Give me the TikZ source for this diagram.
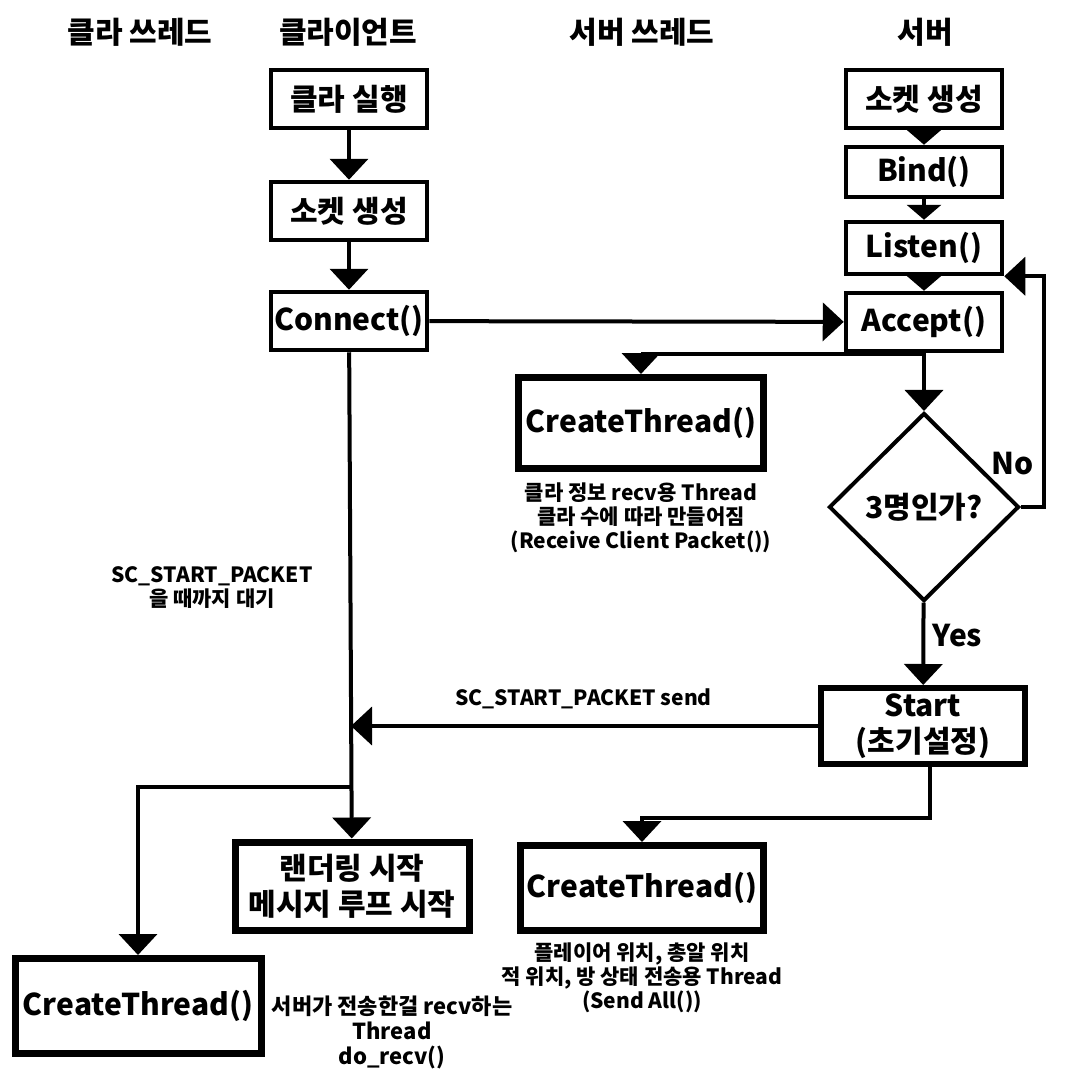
\documentclass[tikz,border=0pt]{standalone}
\usepackage{fontspec}
\setmainfont{Noto Sans CJK KR}[BoldFont={Noto Sans CJK KR Black}]
\usetikzlibrary{arrows.meta,positioning,shapes.geometric}

\begin{document}
\begin{tikzpicture}[x=1pt,y=-1pt,line width=4pt,-{Triangle[width=38pt,length=21pt]},
    font=\fontsize{30}{36}\selectfont\bfseries,
    box/.style={draw,line width=4.5pt,minimum width=156pt,minimum height=58pt,inner sep=2pt},
    heavy/.style={draw,line width=7pt,inner sep=2pt,align=center},
    note/.style={font=\fontsize{21}{24}\selectfont\bfseries,align=center},
    tip/.style={-{Triangle[width=34pt,length=15pt]}}]
    \useasboundingbox (0,0) rectangle (1080,1080);
    \node (h1) at (140,32) {클라 쓰레드};
    \node (h2) at (348,32) {클라이언트};
    \node (h3) at (642,32) {서버 쓰레드};
    \node (h4) at (925,32) {서버};
    \node[box] (1) at (349,99) {클라 실행};
    \node[box] (2) at (349,211) {소켓 생성};
    \node[box] (3) at (349,321) {Connect()};
    \node[box] (4) at (924,99) {소켓 생성};
    \node[box,minimum height=50pt] (5) at (924,172) {Bind()};
    \node[box,minimum height=52pt] (6) at (924,248) {Listen()};
    \node[box] (7) at (924,322) {Accept()};
    \node[draw,diamond,line width=4pt,minimum width=190pt,minimum height=188pt,inner sep=0pt] (8) at (924,507) {3명인가?};
    \node[heavy,line width=6pt,minimum width=204pt,minimum height=76pt] (9) at (923,726) {Start\\(초기설정)};
    \node[heavy,minimum width=245pt,minimum height=91pt] (10) at (641,423) {CreateThread()};
    \node[note,below=5pt of 10] (c10) {클라 정보 recv용 Thread\\클라 수에 따라 만들어짐\\(Receive Client Packet())};
    \node[heavy,minimum width=243pt,minimum height=85pt] (11) at (642,888) {CreateThread()};
    \node[note,below=3pt of 11] (c11) {플레이어 위치, 총알 위치\\적 위치, 방 상태 전송용 Thread\\(Send All())};
    \node[heavy,minimum width=234pt,minimum height=88pt] (12) at (352,886) {랜더링 시작\\메시지 루프 시작};
    \node[heavy,minimum width=246pt,minimum height=95pt] (13) at (138,1006) {CreateThread()};
    \node[note,font=\fontsize{22}{25}\selectfont\bfseries] (c13) at (392,1032) {서버가 전송한걸 recv하는\\Thread\\do\_recv()};
    \node[note] (c3) at (212,588) {SC\_START\_PACKET\\을 때까지 대기};
    \node (no) at (1013,464) {No};
    \coordinate (a) at (924,354);
    \coordinate (b) at (350,787);
    \path
    (1) edge (2)
    (2) edge (3)
    (3) edge (7)
    (7) edge (8)
    (3) edge (12)
    ;
    \draw[tip] (4) -- (5);
    \draw[tip] (5) -- (6);
    \draw[tip] (6) -- (7);
    \draw (a) -| (10);
    \draw (8.east) -- ++(23,0) |- (6.south east);
    \draw (8) -- node[right,pos=0.4,xshift=4pt] {Yes} (9);
    \draw[shorten >=2pt] (9.west) -- node[note,above=12pt] {SC\_START\_PACKET send} (9.west -| 3.south);
    \draw ([xshift=7pt]9.south) -- (930,818) -| (11);
    \draw (b) -| (13);
\end{tikzpicture}
\end{document}
